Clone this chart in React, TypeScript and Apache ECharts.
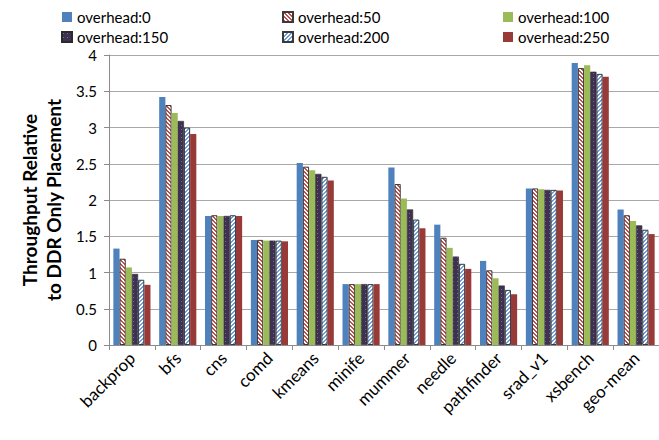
import React, { useEffect, useRef } from "react";
import * as echarts from "echarts";

const categories = [
  "backprop", "bfs", "cns", "comd", "kmeans", "minife",
  "mummer", "needle", "pathfinder", "srad_v1", "xsbench", "geo-mean",
];

const overhead0 = [1.33, 3.42, 1.78, 1.45, 2.51, 0.84, 2.45, 1.66, 1.16, 2.16, 3.89, 1.87];
const overhead50 = [1.19, 3.31, 1.79, 1.45, 2.46, 0.84, 2.22, 1.48, 1.03, 2.16, 3.82, 1.79];
const overhead100 = [1.07, 3.20, 1.78, 1.44, 2.41, 0.84, 2.02, 1.34, 0.92, 2.15, 3.86, 1.71];
const overhead150 = [0.98, 3.09, 1.78, 1.44, 2.36, 0.84, 1.87, 1.22, 0.82, 2.14, 3.77, 1.65];
const overhead200 = [0.90, 3.00, 1.79, 1.44, 2.32, 0.84, 1.73, 1.12, 0.76, 2.14, 3.74, 1.59];
const overhead250 = [0.83, 2.91, 1.78, 1.43, 2.27, 0.84, 1.61, 1.05, 0.70, 2.13, 3.70, 1.53];

const seriesNames = [
  "overhead:0", "overhead:50", "overhead:100",
  "overhead:150", "overhead:200", "overhead:250",
];
const seriesValues = [overhead0, overhead50, overhead100, overhead150, overhead200, overhead250];

const yTicks = { min: 0, max: 4, interval: 0.5 };

const FONT = "Lato, 'Liberation Sans', sans-serif";

// Small tiled canvas used as a fill pattern
function makeTile(
  size: number,
  bg: string,
  fg: string,
  on: (x: number, y: number) => boolean
): HTMLCanvasElement {
  const c = document.createElement("canvas");
  c.width = size;
  c.height = size;
  const ctx = c.getContext("2d")!;
  ctx.fillStyle = bg;
  ctx.fillRect(0, 0, size, size);
  ctx.fillStyle = fg;
  for (let y = 0; y < size; y++) {
    for (let x = 0; x < size; x++) {
      if (on(x, y)) ctx.fillRect(x, y, 1, 1);
    }
  }
  return c;
}

export default function App() {
  const ref = useRef<HTMLDivElement>(null);

  useEffect(() => {
    if (!ref.current) return;
    const chart = echarts.init(ref.current, undefined, { renderer: "svg" });

    const redHatch = makeTile(4, "#ffffff", "#C0504D", (x, y) => ((x - y + 8) % 4) < 2);
    const blueHatch = makeTile(4, "#ffffff", "#6E9FDA", (x, y) => ((x + y) % 4) < 2);
    const purpleDots = makeTile(4, "#3F3151", "#7A6A94", (x, y) => x === 1 && y === 1);

    const fills: any[] = [
      { color: "#4F81BD" },
      { color: { image: redHatch, repeat: "repeat" }, borderColor: "#3a3a3a", borderWidth: 1 },
      { color: "#9BBB59" },
      { color: { image: purpleDots, repeat: "repeat" }, borderColor: "#2a2a2a", borderWidth: 0.6 },
      { color: { image: blueHatch, repeat: "repeat" }, borderColor: "#3a3a3a", borderWidth: 1 },
      { color: "#983A37" },
    ];

    const legendCol = (names: string[], left: number) => ({
      data: names,
      left,
      top: 4,
      orient: "vertical",
      itemWidth: 10,
      itemHeight: 10,
      itemGap: 4,
      icon: "rect",
      selectedMode: false,
      textStyle: { fontFamily: FONT, fontSize: 15, color: "#000", lineHeight: 16, padding: [0, 0, 0, 0] },
    });

    chart.setOption({
      animation: false,
      backgroundColor: "#ffffff",
      legend: [
        legendCol([seriesNames[0], seriesNames[3]], 56),
        legendCol([seriesNames[1], seriesNames[4]], 277),
        legendCol([seriesNames[2], seriesNames[5]], 498),
      ],
      grid: { left: 109, right: 0, top: 55, bottom: 95, containLabel: false },
      xAxis: {
        type: "category",
        data: categories,
        axisLine: { lineStyle: { color: "#8C8C8C", width: 1 } },
        axisTick: { show: true, length: 5, interval: 0, lineStyle: { color: "#8C8C8C" } },
        axisLabel: {
          rotate: 45,
          interval: 0,
          margin: 10,
          fontFamily: FONT,
          fontSize: 17,
          color: "#000",
        },
      },
      yAxis: {
        type: "value",
        min: yTicks.min,
        max: yTicks.max,
        interval: yTicks.interval,
        name: "Throughput Relative\nto DDR Only Placement",
        nameLocation: "middle",
        nameRotate: 90,
        nameGap: 39,
        nameTextStyle: {
          fontFamily: FONT,
          fontSize: 19,
          fontWeight: "bold",
          color: "#000",
          lineHeight: 24,
        },
        axisLine: { show: true, lineStyle: { color: "#8C8C8C", width: 1 } },
        axisTick: { show: true, length: 5, lineStyle: { color: "#8C8C8C" } },
        splitLine: { lineStyle: { color: "#A8A8A8", width: 1 } },
        axisLabel: {
          margin: 12,
          fontFamily: FONT,
          fontSize: 15,
          color: "#000",
          formatter: (v: number) => String(v),
        },
      },
      series: seriesNames.map((name, i) => ({
        name,
        type: "bar",
        data: seriesValues[i],
        barGap: "0%",
        barCategoryGap: "19%",
        itemStyle: fills[i],
      })),
    });

    return () => chart.dispose();
  }, []);

  return (
    <div
      ref={ref}
      style={{ position: "fixed", left: 0, top: 0, width: 659, height: 440, background: "#fff" }}
    />
  );
}
